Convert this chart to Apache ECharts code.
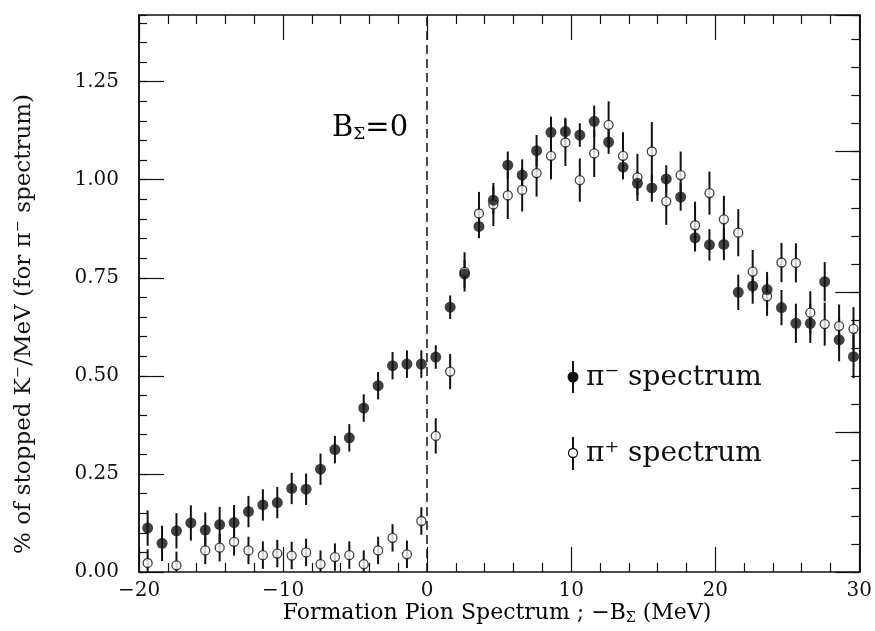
<!DOCTYPE html>
<html>
<head>
<meta charset="utf-8">
<script src="https://cdn.jsdelivr.net/npm/echarts@6/dist/echarts.min.js"></script>
<style>
  html, body { margin: 0; padding: 0; background: #fff; }
  #chart { width: 875px; height: 631px; }
</style>
</head>
<body>
<div id="chart"></div>
<script>
// bin centres (MeV)
const binX = [
  -19.4, -18.4, -17.4, -16.4, -15.4, -14.4, -13.4, -12.4, -11.4, -10.4,
  -9.4, -8.4, -7.4, -6.4, -5.4, -4.4, -3.4, -2.4, -1.4, -0.4,
  0.6, 1.6, 2.6, 3.6, 4.6, 5.6, 6.6, 7.6, 8.6, 9.6,
  10.6, 11.6, 12.6, 13.6, 14.6, 15.6, 16.6, 17.6, 18.6, 19.6,
  20.6, 21.6, 22.6, 23.6, 24.6, 25.6, 26.6, 27.6, 28.6, 29.6
];
// pi- spectrum (filled)
const piMinus = [
  0.112, 0.073, 0.105, 0.125, 0.107, 0.121, 0.126, 0.154, 0.171, 0.177,
  0.213, 0.211, 0.262, 0.312, 0.342, 0.418, 0.475, 0.526, 0.530, 0.530,
  0.548, 0.675, 0.760, 0.881, 0.948, 1.037, 1.012, 1.074, 1.121, 1.123,
  1.114, 1.149, 1.096, 1.032, 0.991, 0.979, 1.002, 0.956, 0.852, 0.834,
  0.835, 0.713, 0.729, 0.720, 0.674, 0.634, 0.634, 0.740, 0.592, 0.549
];
const piMinusErr = [
  0.045, 0.045, 0.045, 0.045, 0.045, 0.045, 0.045, 0.04, 0.04, 0.04,
  0.04, 0.04, 0.04, 0.035, 0.035, 0.035, 0.035, 0.035, 0.035, 0.035,
  0.03, 0.03, 0.035, 0.03, 0.035, 0.035, 0.04, 0.04, 0.04, 0.035,
  0.03, 0.04, 0.03, 0.03, 0.03, 0.035, 0.035, 0.035, 0.035, 0.04,
  0.04, 0.045, 0.045, 0.045, 0.045, 0.05, 0.05, 0.05, 0.055, 0.055
];
// pi+ spectrum (open)
const piPlus = [
  0.023, null, 0.017, null, 0.055, 0.062, 0.077, 0.055, 0.043, 0.047,
  0.042, 0.050, 0.020, 0.038, 0.043, 0.020, 0.055, 0.087, 0.045, 0.130,
  0.347, 0.511, 0.765, 0.914, 0.937, 0.960, 0.974, 1.017, 1.061, 1.095,
  0.999, 1.067, 1.140, 1.061, 1.006, 1.072, 0.945, 1.012, 0.884, 0.966,
  0.899, 0.865, 0.766, 0.703, 0.789, 0.788, 0.661, 0.632, 0.627, 0.620
];
const piPlusErr = [
  0.035, 0, 0.035, 0, 0.035, 0.035, 0.035, 0.035, 0.035, 0.035,
  0.035, 0.035, 0.035, 0.035, 0.035, 0.035, 0.035, 0.035, 0.035, 0.035,
  0.045, 0.045, 0.05, 0.055, 0.055, 0.06, 0.055, 0.06, 0.06, 0.06,
  0.055, 0.06, 0.06, 0.06, 0.06, 0.075, 0.06, 0.06, 0.06, 0.055,
  0.06, 0.06, 0.055, 0.05, 0.05, 0.05, 0.055, 0.055, 0.055, 0.055
];

const INK = '#111';
const SERIF = '"DejaVu Serif", serif';

function points(vals, errs) {
  const out = [];
  binX.forEach(function (x, i) {
    if (vals[i] != null) out.push([x, vals[i], errs[i]]);
  });
  return out;
}
const minusData = points(piMinus, piMinusErr);
const plusData = points(piPlus, piPlusErr);

function errorBar(params, api) {
  const x = api.value(0);
  const y = api.value(1);
  const e = api.value(2);
  const lo = api.coord([x, Math.max(0, y - e)]);
  const hi = api.coord([x, y + e]);
  return {
    type: 'line',
    shape: { x1: lo[0], y1: lo[1], x2: hi[0], y2: hi[1] },
    style: { stroke: INK, lineWidth: 2 }
  };
}

const minus = function (v) { return String(v).replace('-', '\u2212'); };

function xAx(pos) {
  return {
    type: 'value', min: -20, max: 30, interval: 10, position: pos,
    axisLine: { onZero: false, lineStyle: { color: INK, width: 1.5 } },
    axisTick: { inside: true, length: 25, lineStyle: { color: INK, width: 1.2 } },
    minorTick: { show: true, splitNumber: 5, length: 9, lineStyle: { color: INK, width: 1.2 } },
    splitLine: { show: false },
    axisLabel: {
      show: pos === 'bottom', margin: 9, color: INK,
      fontFamily: SERIF, fontSize: 20, formatter: minus
    }
  };
}
function yAx(pos, max, interval, tickLen, labels) {
  return {
    type: 'value', min: 0, max: max, interval: interval, position: pos,
    axisLine: { onZero: false, lineStyle: { color: INK, width: 1.5 } },
    axisTick: { inside: true, length: tickLen, lineStyle: { color: INK, width: 1.2 } },
    splitLine: { show: false },
    axisLabel: {
      show: labels, margin: 20, color: INK, showMaxLabel: false,
      fontFamily: SERIF, fontSize: 20,
      formatter: function (v) { return v.toFixed(2); }
    }
  };
}

const chart = echarts.init(document.getElementById('chart'));
chart.setOption({
  animation: false,
  backgroundColor: '#fff',
  grid: { left: 139, right: 11, top: 15, bottom: 59, containLabel: false },
  xAxis: [xAx('bottom'), xAx('top')],
  yAxis: [
    yAx('left', 1.42, 0.25, 25, true),
    yAx('left', 1.42, 0.05, 8, false),
    yAx('right', 3.976, 1, 24, false),
    yAx('right', 3.976, 0.2, 8, false)
  ],
  series: [
    {
      type: 'custom', name: 'err+', renderItem: errorBar,
      encode: { x: 0, y: 1 }, data: plusData, z: 2
    },
    {
      type: 'custom', name: 'err-', renderItem: errorBar,
      encode: { x: 0, y: 1 }, data: minusData, z: 2
    },
    {
      type: 'scatter', name: '\u03c0\u207a spectrum', data: plusData,
      symbol: 'circle', symbolSize: 9, z: 3,
      itemStyle: { color: '#fff', borderColor: INK, borderWidth: 1.3 }
    },
    {
      type: 'scatter', name: '\u03c0\u207b spectrum', data: minusData,
      symbol: 'circle', symbolSize: 11, z: 4,
      itemStyle: { color: INK },
      markLine: {
        silent: true, symbol: 'none', animation: false,
        label: { show: false },
        lineStyle: { color: INK, width: 1.5, type: [9, 5] },
        data: [{ xAxis: 0 }]
      }
    }
  ],
  graphic: [
    {
      type: 'text', x: 24, y: 324, rotation: Math.PI / 2,
      style: {
        text: '% of stopped K\u207b/MeV (for \u03c0\u207b spectrum)',
        font: '23px ' + SERIF, fill: INK,
        textAlign: 'center', textVerticalAlign: 'middle'
      }
    },
    {
      type: 'text', x: 497, y: 613,
      style: {
        text: '{a|Formation Pion Spectrum ; \u2212B}{s|\u03a3}{a| (MeV)}',
        textAlign: 'center', textVerticalAlign: 'middle',
        rich: {
          a: { fontFamily: SERIF, fontSize: 22, color: INK },
          s: { fontFamily: SERIF, fontSize: 14, color: INK, padding: [10, 0, 0, 0] }
        }
      }
    },
    {
      type: 'text', x: 332, y: 128,
      style: {
        text: '{a|B}{s|\u03a3}{a|=0}',
        textAlign: 'left', textVerticalAlign: 'middle',
        rich: {
          a: { fontFamily: SERIF, fontSize: 29, color: INK },
          s: { fontFamily: SERIF, fontSize: 17, color: INK, padding: [14, 0, 0, 0] }
        }
      }
    },
    // legend
    { type: 'line', shape: { x1: 573, y1: 361, x2: 573, y2: 393 }, style: { stroke: INK, lineWidth: 2 } },
    { type: 'circle', shape: { cx: 573, cy: 377, r: 5.5 }, style: { fill: INK } },
    {
      type: 'text', x: 586, y: 378,
      style: { text: '\u03c0\u207b spectrum', font: '28px ' + SERIF, fill: INK, textVerticalAlign: 'middle' }
    },
    { type: 'line', shape: { x1: 573, y1: 437, x2: 573, y2: 470 }, style: { stroke: INK, lineWidth: 2 } },
    { type: 'circle', shape: { cx: 573, cy: 453, r: 4.5 }, style: { fill: '#fff', stroke: INK, lineWidth: 1.3 } },
    {
      type: 'text', x: 586, y: 454,
      style: { text: '\u03c0\u207a spectrum', font: '28px ' + SERIF, fill: INK, textVerticalAlign: 'middle' }
    }
  ]
});
</script>
</body>
</html>
